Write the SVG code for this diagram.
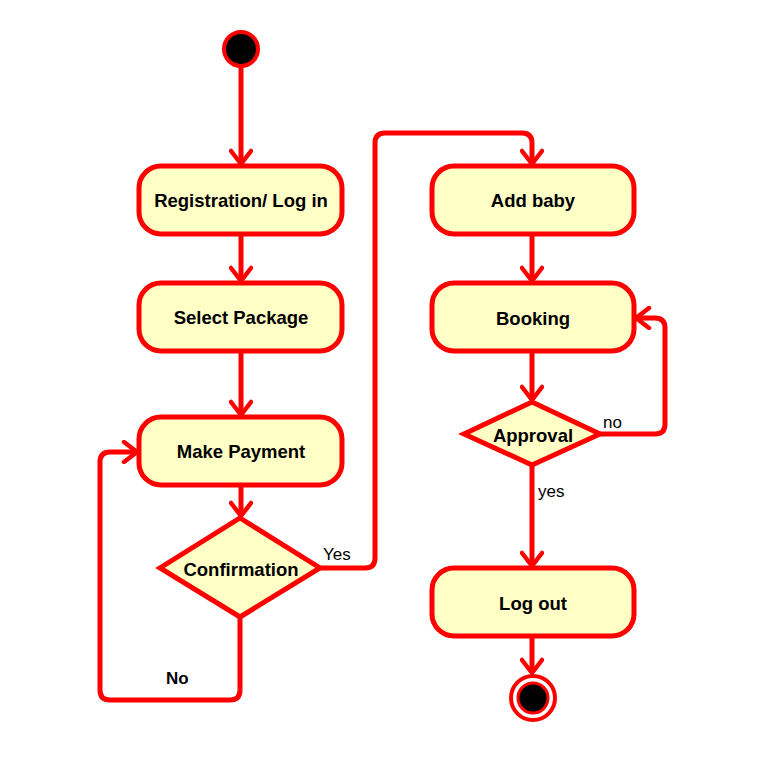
<svg xmlns="http://www.w3.org/2000/svg" width="768" height="762" viewBox="0 0 768 762">
<style>
.node{fill:#ffffc6;stroke:#ff0000;stroke-width:5}
.t{font-family:"Liberation Sans",Arial,sans-serif;font-size:18.5px;font-weight:bold;fill:#000;text-anchor:middle}
.l{font-family:"Liberation Sans",Arial,sans-serif;font-size:17px;fill:#000}
.c{fill:none;stroke:#ff0000;stroke-width:5;stroke-linejoin:round;marker-end:url(#arr)}
</style>
<defs>
<marker id="arr" markerUnits="userSpaceOnUse" viewBox="-16 -12 20 24" refX="0" refY="0" markerWidth="20" markerHeight="24" orient="auto">
<path d="M-13,-10 L0,0 L-13,10" fill="none" stroke="#ff0000" stroke-width="4.5" stroke-linecap="round" stroke-linejoin="round"/>
</marker>
</defs>
<rect x="0" y="0" width="768" height="762" fill="#fff"/>
<g id="connectors">
<path class="c" d="M241,67 V164"/>
<path class="c" d="M241,234 V281"/>
<path class="c" d="M241,351 V415"/>
<path class="c" d="M241,485 V516"/>
<path class="c" d="M240,617 V690 Q240,700 230,700 H110 Q100,700 100,690 V462 Q100,452 110,452 H137"/>
<path class="c" d="M320,568 H365 Q375,568 375,558 V143 Q375,133 385,133 H522 Q532,133 532,143 V164"/>
<path class="c" d="M532,234 V281"/>
<path class="c" d="M532,351 V400"/>
<path class="c" d="M600,434 H655 Q665,434 665,424 V328 Q665,318 655,318 H636"/>
<path class="c" d="M532,465 V566"/>
<path class="c" d="M532,636 V673"/>
<text class="l" x="323" y="560">Yes</text>
<text class="l" x="166" y="684" font-weight="bold">No</text>
<text class="l" x="603" y="428">no</text>
<text class="l" x="538" y="497">yes</text>
</g>
<g id="start"><circle cx="241" cy="49" r="17" fill="#000" stroke="#ff0000" stroke-width="4"/></g>
<g id="registration"><rect class="node" x="139" y="166" width="203" height="68" rx="22"/><text class="t" x="241" y="207">Registration/ Log in</text></g>
<g id="select"><rect class="node" x="139" y="283" width="203" height="68" rx="22"/><text class="t" x="241" y="324">Select Package</text></g>
<g id="payment"><rect class="node" x="139" y="417" width="203" height="68" rx="22"/><text class="t" x="241" y="458">Make Payment</text></g>
<g id="confirmation"><polygon class="node" points="240,518 320,568 240,617 160,568"/><text class="t" x="241" y="576">Confirmation</text></g>
<g id="addbaby"><rect class="node" x="432" y="166" width="202" height="68" rx="22"/><text class="t" x="533" y="207">Add baby</text></g>
<g id="booking"><rect class="node" x="432" y="283" width="202" height="68" rx="22"/><text class="t" x="533" y="325">Booking</text></g>
<g id="approval"><polygon class="node" points="532,402 600,434 532,465 464,434"/><text class="t" x="533" y="442">Approval</text></g>
<g id="logout"><rect class="node" x="432" y="568" width="202" height="68" rx="22"/><text class="t" x="533" y="610">Log out</text></g>
<g id="end"><circle cx="533" cy="698" r="22" fill="#fff" stroke="#ff0000" stroke-width="4"/><circle cx="533" cy="698" r="15" fill="#000" stroke="#ff0000" stroke-width="3"/></g>
</svg>
